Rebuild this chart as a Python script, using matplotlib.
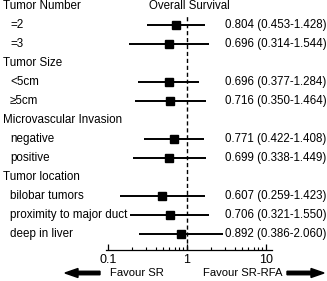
import matplotlib
matplotlib.use("Agg")
import matplotlib.pyplot as plt
from matplotlib.transforms import blended_transform_factory
from matplotlib.patches import FancyArrow
import numpy as np

plt.rcParams['font.family'] = ['Liberation Sans', 'DejaVu Sans']

# ---- data ----
row_labels = ["Tumor Number", "=2", "=3",
              "Tumor Size", "<5cm", "\u22655cm",
              "Microvascular Invasion", "negative", "positive",
              "Tumor location", "bilobar tumors", "proximity to major duct", "deep in liver"]
is_header = [True, False, False, True, False, False, True, False, False, True, False, False, False]
hr = [None, 0.804, 0.696, None, 0.696, 0.716, None, 0.771, 0.699, None, 0.607, 0.706, 0.892]
ci_low = [None, 0.453, 0.314, None, 0.377, 0.350, None, 0.422, 0.338, None, 0.259, 0.321, 0.386]
ci_high = [None, 1.428, 1.544, None, 1.284, 1.464, None, 1.408, 1.449, None, 1.423, 1.550, 2.060]
title = "Overall Survival"
axis_ticks = [0.1, 1, 10]
axis_ticklabels = ["0.1", "1", "10"]
left_label = "Favour SR"
right_label = "Favour SR-RFA"

W, H = 327, 281
fig = plt.figure(figsize=(W / 100, H / 100), dpi=100)

# main data axes
axL, axR = 106, 272
axTop, axBot = 0, 250
ax = fig.add_axes([axL / W, 1 - axBot / H, (axR - axL) / W, (axBot - axTop) / H])
ax.set_xscale('log')
x_one = 187
ppd = 115.0
ax.set_xlim(10 ** ((axL - x_one) / ppd), 10 ** ((axR - x_one) / ppd))
row0 = 6
sp = 19.0
ax.set_ylim((axBot - row0) / sp, (axTop - row0) / sp)
ax.axis('off')

fs_left = 8.4
fs = 8.3
fs_fav = 8.1
tr = blended_transform_factory(fig.transFigure, ax.transData)
for i, lab in enumerate(row_labels):
    xpos = 3 if is_header[i] else 10
    ax.text(xpos / W, i, lab, transform=tr, ha='left', va='center', fontsize=fs_left, color='black')
    if hr[i] is not None:
        ax.plot([ci_low[i], ci_high[i]], [i, i], color='black', lw=1.4, solid_capstyle='butt', zorder=3)
        ax.plot([hr[i]], [i], marker='s', color='black', markersize=5.2, zorder=4)
        ax.text(225 / W, i, f"{hr[i]:.3f} ({ci_low[i]:.3f}-{ci_high[i]:.3f})", transform=tr,
                ha='left', va='center', fontsize=fs, color='black')

ax.text(189 / W, 0, title, transform=tr, ha='center', va='center', fontsize=fs)
ax.axvline(1, ymin=0, ymax=1 - 14 / (axBot - axTop), color='black', lw=1.0, ls=(0, (3, 2)), zorder=2)

# ruler axes
rx = fig.add_axes([axL / W, 1 - axBot / H, (axR - axL) / W, 0.0001])
rx.set_xscale('log')
rx.set_xlim(10 ** (-1 - 2 / 79), 10 ** ((axR - x_one) / 79))
for s in ['top', 'left', 'right']:
    rx.spines[s].set_visible(False)
rx.spines['bottom'].set_linewidth(0.9)
rx.set_yticks([])
rx.set_xticks(axis_ticks)
rx.set_xticklabels(axis_ticklabels, fontsize=9)
rx.tick_params(axis='x', which='major', direction='in', length=4, width=0.9, pad=3)
rx.tick_params(axis='x', which='minor', direction='in', length=2, width=0.8)
rx.patch.set_visible(False)

# arrows and favour labels
yin = (H - 273) / 100
fig.patches.append(FancyArrow(1.00, yin, -0.35, 0, width=0.035, head_width=0.09, head_length=0.13,
                              length_includes_head=True, color='black', transform=fig.dpi_scale_trans))
fig.patches.append(FancyArrow(2.87, yin, 0.37, 0, width=0.035, head_width=0.09, head_length=0.13,
                              length_includes_head=True, color='black', transform=fig.dpi_scale_trans))
fig.text(110 / W, 1 - 273 / H, left_label, ha='left', va='center', fontsize=fs_fav)
fig.text(203 / W, 1 - 273 / H, right_label, ha='left', va='center', fontsize=fs_fav)

fig.savefig("out.png", dpi=100)
